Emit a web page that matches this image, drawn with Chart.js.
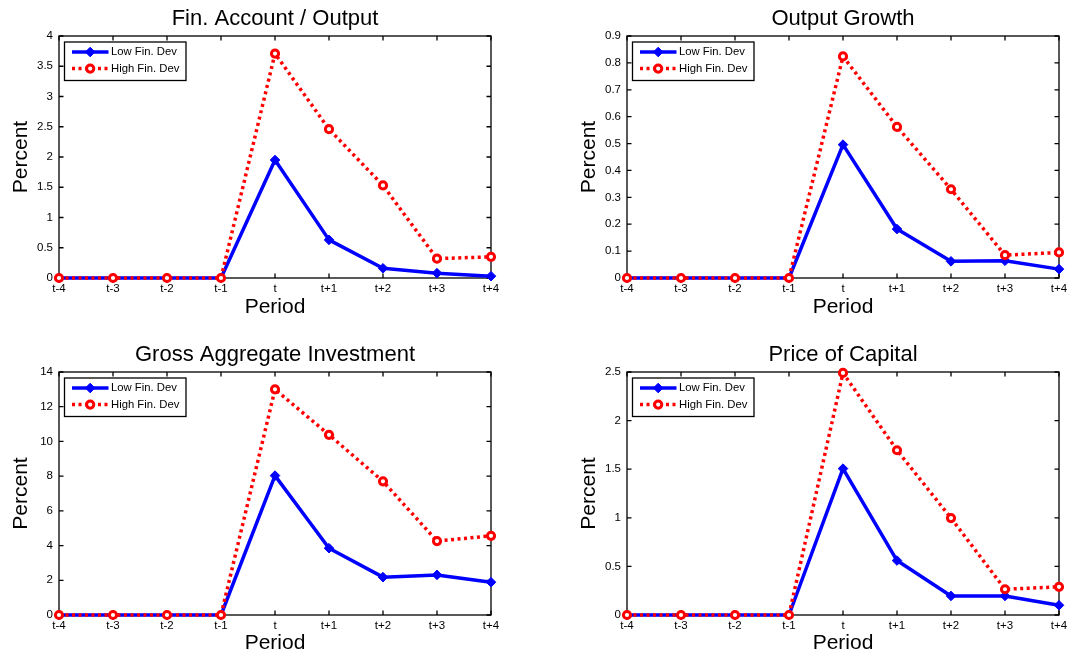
<!DOCTYPE html>
<html>
<head>
<meta charset="utf-8">
<script src="https://cdn.jsdelivr.net/npm/chart.js@4/dist/chart.umd.min.js"></script>
<style>
  html, body { margin: 0; padding: 0; background: #fff; overflow: hidden; }
  #wrap { position: relative; width: 1075px; height: 658px; }
  canvas { position: absolute; }
</style>
</head>
<body>
<div id="wrap">
  <canvas id="c1" width="507" height="320" style="left:0px;top:0px"></canvas>
  <canvas id="c2" width="507" height="320" style="left:568px;top:0px"></canvas>
  <canvas id="c3" width="507" height="320" style="left:0px;top:336px"></canvas>
  <canvas id="c4" width="507" height="320" style="left:568px;top:336px"></canvas>
</div>
<script>
// Event window shared by all four panels
const periods = ['t-4', 't-3', 't-2', 't-1', 't', 't+1', 't+2', 't+3', 't+4'];
const seriesNames = ['Low Fin. Dev', 'High Fin. Dev'];

// Financial account / output
const finAccLow  = [0, 0, 0, 0, 1.95, 0.63, 0.16, 0.08, 0.03];
const finAccHigh = [0, 0, 0, 0, 3.71, 2.46, 1.53, 0.32, 0.35];
const finAccTicks = [0, 0.5, 1, 1.5, 2, 2.5, 3, 3.5, 4];

// Output growth
const growthLow  = [0, 0, 0, 0, 0.496, 0.182, 0.062, 0.064, 0.033];
const growthHigh = [0, 0, 0, 0, 0.824, 0.562, 0.330, 0.085, 0.095];
const growthTicks = [0, 0.1, 0.2, 0.3, 0.4, 0.5, 0.6, 0.7, 0.8, 0.9];

// Gross aggregate investment
const investLow  = [0, 0, 0, 0, 8.03, 3.85, 2.18, 2.31, 1.89];
const investHigh = [0, 0, 0, 0, 13.0, 10.38, 7.70, 4.26, 4.56];
const investTicks = [0, 2, 4, 6, 8, 10, 12, 14];

// Price of capital
const priceLow  = [0, 0, 0, 0, 1.506, 0.56, 0.196, 0.196, 0.10];
const priceHigh = [0, 0, 0, 0, 2.49, 1.695, 0.997, 0.265, 0.29];
const priceTicks = [0, 0.5, 1, 1.5, 2, 2.5];

const FONT = '"Liberation Sans", Arial, Helvetica, sans-serif';
Chart.defaults.font.family = FONT;
Chart.defaults.color = '#000';

// Boxed axes with inward tick marks, plus a framed legend in the upper-left corner
const boxedAxes = {
  id: 'boxedAxes',
  beforeDatasetsDraw(chart) {
    const { ctx, chartArea: a, scales } = chart;
    const len = 4.5;
    ctx.save();
    ctx.strokeStyle = '#000';
    ctx.lineWidth = 1.3;
    ctx.strokeRect(a.left, a.top, a.right - a.left, a.bottom - a.top);
    ctx.beginPath();
    scales.x.ticks.forEach((t, i) => {
      const px = scales.x.getPixelForTick(i);
      ctx.moveTo(px, a.bottom); ctx.lineTo(px, a.bottom - len);
      ctx.moveTo(px, a.top);    ctx.lineTo(px, a.top + len);
    });
    scales.y.ticks.forEach((t) => {
      const py = scales.y.getPixelForValue(t.value);
      ctx.moveTo(a.left, py);  ctx.lineTo(a.left + len, py);
      ctx.moveTo(a.right, py); ctx.lineTo(a.right - len, py);
    });
    ctx.stroke();
    ctx.restore();
  },
  afterDatasetsDraw(chart) {
    const { ctx, chartArea: a } = chart;
    const x0 = a.left + 5.5, y0 = a.top + 6, w = 121.5, h = 38.5;
    ctx.save();
    ctx.fillStyle = '#fff';
    ctx.fillRect(x0, y0, w, h);
    ctx.strokeStyle = '#000';
    ctx.lineWidth = 1.3;
    ctx.strokeRect(x0, y0, w, h);
    chart.data.datasets.forEach((ds, i) => {
      const y = y0 + 10 + i * 16.6;
      ctx.save();
      ctx.strokeStyle = ds.borderColor;
      ctx.lineWidth = ds.borderWidth;
      ctx.lineCap = ds.borderCapStyle || 'butt';
      ctx.setLineDash(ds.borderDash || []);
      ctx.beginPath();
      ctx.moveTo(x0 + 7.5, y);
      ctx.lineTo(x0 + 44, y);
      ctx.stroke();
      ctx.setLineDash([]);
      ctx.fillStyle = ds.pointBackgroundColor;
      ctx.strokeStyle = ds.pointBorderColor;
      ctx.lineWidth = ds.pointBorderWidth;
      Chart.helpers.drawPoint(ctx, {
        pointStyle: ds.pointStyle, radius: ds.pointRadius,
        rotation: 0, borderWidth: ds.pointBorderWidth
      }, x0 + 25.7, y);
      ctx.restore();
      ctx.fillStyle = '#000';
      ctx.font = '11.3px ' + FONT;
      ctx.textBaseline = 'middle';
      ctx.textAlign = 'left';
      ctx.fillText(ds.label, x0 + 46.5, y);
    });
    ctx.restore();
  }
};

function drawPanel(id, title, low, high, yTicks, xAxisHeight) {
  new Chart(document.getElementById(id), {
    type: 'line',
    data: {
      labels: periods,
      datasets: [
        {
          label: seriesNames[0],
          data: low,
          order: 1,
          borderColor: '#0000ff',
          borderWidth: 3.5,
          borderJoinStyle: 'round',
          pointStyle: 'rectRot',
          pointRadius: 4.8,
          pointBackgroundColor: '#0000ff',
          pointBorderColor: '#0000ff',
          pointBorderWidth: 1,
          tension: 0,
          clip: false
        },
        {
          label: seriesNames[1],
          data: high,
          order: 0,
          borderColor: '#ff0000',
          borderWidth: 3.5,
          borderDash: [3, 3.5],
          borderCapStyle: 'butt',
          pointStyle: 'circle',
          pointRadius: 3.6,
          pointBackgroundColor: '#ffffff',
          pointBorderColor: '#ff0000',
          pointBorderWidth: 3,
          tension: 0,
          clip: false
        }
      ]
    },
    options: {
      responsive: false,
      animation: false,
      events: [],
      layout: { padding: { left: 0, right: 16, top: 0, bottom: 0 } },
      plugins: {
        legend: { display: false },
        tooltip: { enabled: false },
        title: {
          display: true,
          text: title,
          fullSize: false,
          color: '#000',
          font: { size: 22, weight: 'normal' },
          padding: { top: 5.5, bottom: 4.1 }
        }
      },
      scales: {
        x: {
          offset: false,
          grid: { display: false, drawTicks: false },
          border: { display: false },
          ticks: { autoSkip: false, maxRotation: 0, minRotation: 0, padding: 4, font: { size: 11.5 } },
          title: { display: true, text: 'Period', font: { size: 21 }, padding: { top: 0, bottom: 0 } },
          afterFit(scale) { scale.height = xAxisHeight; }
        },
        y: {
          min: yTicks[0],
          max: yTicks[yTicks.length - 1],
          grid: { display: false, drawTicks: false },
          border: { display: false },
          afterBuildTicks(scale) { scale.ticks = yTicks.map(v => ({ value: v })); },
          ticks: { padding: 6, font: { size: 11.5 }, callback: (v) => String(v) },
          title: { display: true, text: 'Percent', font: { size: 21 }, padding: { top: 8.4, bottom: 0 } },
          afterFit(scale) { scale.width = 59; }
        }
      }
    },
    plugins: [boxedAxes]
  });
}

drawPanel('c1', 'Fin. Account / Output', finAccLow, finAccHigh, finAccTicks, 42);
drawPanel('c2', 'Output Growth', growthLow, growthHigh, growthTicks, 42);
drawPanel('c3', 'Gross Aggregate Investment', investLow, investHigh, investTicks, 41);
drawPanel('c4', 'Price of Capital', priceLow, priceHigh, priceTicks, 41);
</script>
</body>
</html>
